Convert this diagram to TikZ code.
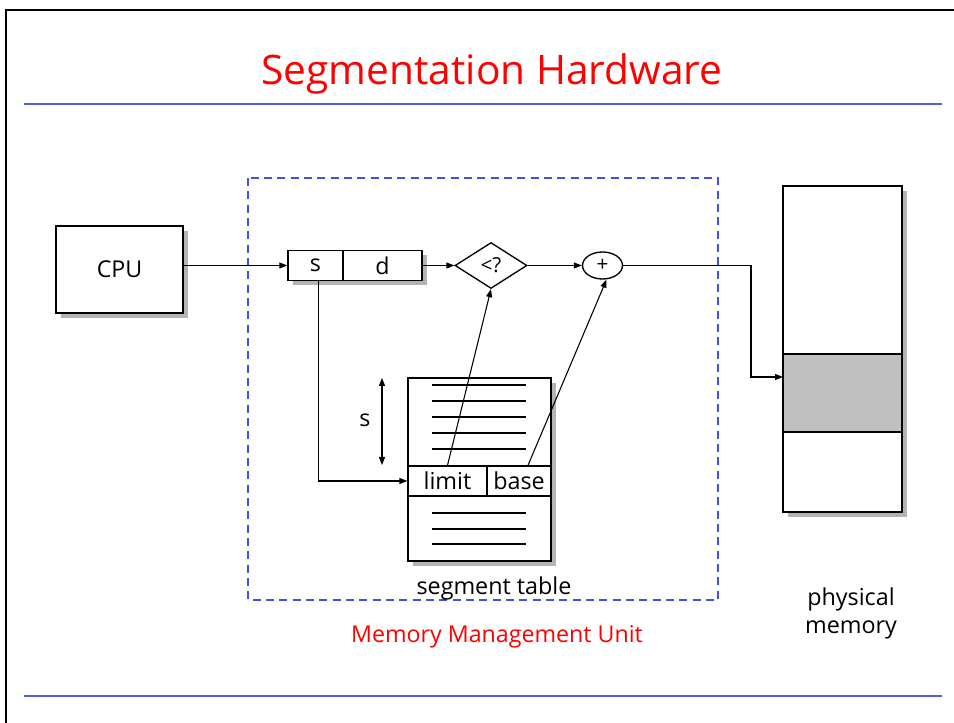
\documentclass[tikz,border=0pt]{standalone}
\usepackage{fontspec}
\setmainfont{Open Sans}
\usetikzlibrary{shapes.geometric,shadows,arrows.meta,calc}
\newlength\pxu \setlength\pxu{0.75pt}
\definecolor{titlered}{RGB}{255,0,0}
\definecolor{lineblue}{RGB}{80,96,220}
\definecolor{dashblue}{RGB}{70,80,230}
\definecolor{silver}{RGB}{192,192,192}
\definecolor{shadowgray}{RGB}{180,180,180}
\tikzset{
  box/.style={draw=black,line width=1pt,fill=white,inner sep=0pt},
  shadowed/.style={drop shadow={shadow xshift=5\pxu,shadow yshift=-5\pxu,fill=shadowgray,opacity=1}},
  arr/.style={line width=0.8pt,-{Triangle[length=6pt,width=4.5pt]}},
  big/.style={font=\fontsize{17.4pt}{20pt}\selectfont},
  mid/.style={font=\fontsize{17.5pt}{21pt}\selectfont},
  small/.style={font=\fontsize{15.5pt}{17pt}\selectfont},
}
\begin{document}
\begin{tikzpicture}[x=0.75pt,y=-0.75pt]
\useasboundingbox (0,0) rectangle (954,723);
% page frame
\draw[line width=1.6pt] (6,723) -- (6,10) -- (954,10);
% title
\node[text=titlered,font=\fontsize{30.5pt}{34pt}\selectfont] (title) at (492,74) {Segmentation Hardware};
\draw[lineblue,line width=2pt] (24,104) -- (942,104);
\draw[lineblue,line width=2pt] (24,696) -- (942,696);
% MMU dashed box
\draw[dashblue,line width=0.8pt,dash pattern=on 6pt off 4pt] (248,178) rectangle (718,600);
\node[text=titlered,big] (mmu) at (497,637) {Memory Management Unit};
% CPU
\node[box,shadowed,minimum width=127\pxu,minimum height=87\pxu,big] (cpu) at (119.5,269.5) {CPU};
% s|d register
\node[box,shadowed,minimum width=134\pxu,minimum height=30\pxu] (sd) at (355,265.5) {};
\node[box,minimum width=55\pxu,minimum height=30\pxu,big] (s) at (315.5,265.5) {s};
\node[box,minimum width=79\pxu,minimum height=30\pxu,big] (d) at (382.5,265.5) {d};
% comparator and adder
\node[box,diamond,aspect=1.56,minimum width=72\pxu,minimum height=46\pxu,small] (cmp) at (491,265.5) {<?};
\node[box,ellipse,minimum width=40\pxu,minimum height=27\pxu,small] (plus) at (602.5,265.5) {+};
% segment table
\node[box,shadowed,minimum width=143\pxu,minimum height=183\pxu] (table) at (479.5,469.5) {};
\foreach \yy in {385,401,417,433,449,513,529,544}
  \draw[line width=0.8pt] (432,\yy) -- (526,\yy);
\node[box,minimum width=79\pxu,minimum height=30\pxu,mid] (limit) at (447.5,481) {limit};
\node[box,minimum width=64\pxu,minimum height=30\pxu,mid] (base) at (519,481) {base};
\node[mid] (stlabel) at (494,588) {segment table};
% s index arrow
\coordinate (stop) at (382,378);
\coordinate (sbot) at (382,465);
\draw[line width=0.8pt,{Triangle[length=6pt,width=4.5pt]}-{Triangle[length=6pt,width=4.5pt]}] (stop) -- (sbot);
\node[big] (slabel) at (365,420) {s};
% physical memory
\node[box,shadowed,minimum width=119\pxu,minimum height=326\pxu] (mem) at (842.5,349) {};
\node[draw=black,line width=1pt,fill=silver,minimum width=119\pxu,minimum height=78\pxu,inner sep=0pt] (seg) at (842.5,393) {};
\node[mid,align=center] (pmlabel) at (851,613) {physical\\memory};
% connectors
\draw[arr] (cpu.east |- s.west) -- (s.west);
\draw[arr] (d.east) -- (cmp.west);
\draw[arr] (cmp.east) -- (plus.west);
\coordinate (turn) at (751,265.5);
\coordinate (memin) at (783,377);
\draw[arr] (plus.east) -- (turn) |- (memin);
\draw[arr] ([xshift=3\pxu]s.south) |- (limit.west);
\draw[arr] (limit.north) -- (cmp.south);
\draw[arr] ([xshift=9\pxu]base.north) -- ([xshift=4\pxu]plus.south);
\end{tikzpicture}
\end{document}
